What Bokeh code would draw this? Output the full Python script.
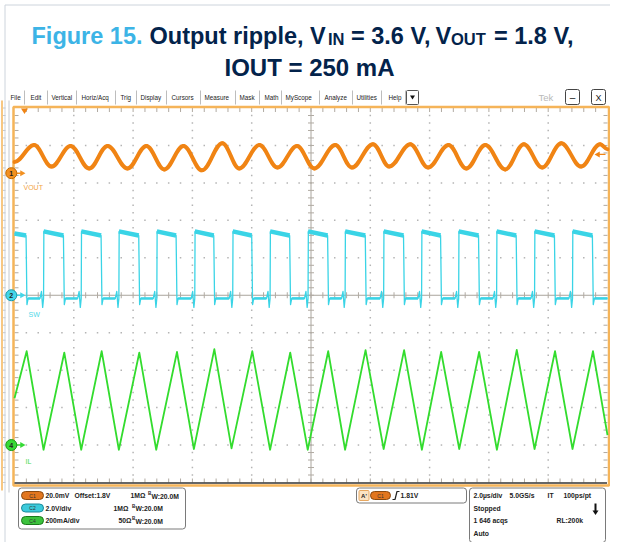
import math
from bokeh.plotting import figure
from bokeh.models import Range1d
from bokeh.embed import file_html
from bokeh.resources import INLINE
from bokeh.core.properties import value

# ---------------- data ----------------
title_parts = ["Figure 15.", "Output ripple, V", "IN", "= 3.6 V,", "V", "OUT", "= 1.8 V,"]
title_line2 = "IOUT = 250 mA"

menu_items = ["File", "Edit", "Vertical", "Horiz/Acq", "Trig", "Display", "Cursors",
              "Measure", "Mask", "Math", "MyScope", "Analyze", "Utilities", "Help"]
menu_x = [10, 30, 51, 81, 120, 140, 171, 204, 239, 264, 285, 324, 356, 388]
menu_sep_x = [24, 47, 76, 115, 136, 166, 200, 235, 259, 281, 319, 352, 381, 405]

TIME_PER_DIV_US = 2.0

# CH1 : VOUT ripple, 20 mV/div, offset 1.8 V
CH1_OFFSET_V = 1.8
CH1_MV_PER_DIV = 20.0
CH1_POS_DIV = 3.26
vout_t_us = [-10.0, -9.34, -8.75, -8.11, -7.48, -6.86, -6.19, -5.55, -4.95, -4.30, -3.68,
             -2.99, -2.42, -1.74, -1.13, -0.47, 0.11, 0.82, 1.38, 2.09, 2.64, 3.35, 3.95,
             4.64, 5.24, 5.88, 6.55, 7.18, 7.80, 8.44, 9.11, 9.75, 10.0]
vout_ripple_mv = [6.0, 15.0, 3.5, 14.5, 2.5, 14.5, 2.5, 14.5, 2.0, 14.5, 1.5, 16.0, 2.5,
                  15.0, 3.0, 14.5, 2.5, 15.0, 3.0, 15.5, 3.5, 15.5, 3.0, 15.0, 2.5, 15.0,
                  2.0, 15.5, 3.0, 16.0, 3.5, 15.5, 12.8]

# CH2 : SW node, 2 V/div
CH2_V_PER_DIV = 2.0
CH2_POS_DIV = 0.0
sw_fall_t_us = [-9.61, -8.35, -7.08, -5.81, -4.55, -3.28, -2.00, -0.72, 0.56, 1.83, 3.12,
                4.37, 5.65, 6.92, 8.21, 9.49]
sw_rise_t_us = [-9.02, -7.75, -6.48, -5.20, -3.92, -2.64, -1.38, -0.10, 1.15, 2.45, 3.73,
                4.98, 6.26, 7.54, 8.82]
SW_LEFT_V = 3.3
SW_HIGH_START_V = 3.41
SW_HIGH_END_V = 3.19
SW_LOW_V = -0.17
SW_UNDERSHOOT_V = -0.5
SW_BUMP_V = 0.2
SW_DIP_V = -0.65

# CH4 : IL, 200 mA/div
CH4_MA_PER_DIV = 200.0
CH4_POS_DIV = -4.0
il_t_us = [-10.0, -9.59, -9.02, -8.32, -7.75, -7.06, -6.48, -5.79, -5.22, -4.52, -3.95,
           -3.26, -2.68, -1.98, -1.38, -0.70, -0.11, 0.58, 1.15, 1.84, 2.45, 3.14, 3.74,
           4.39, 5.00, 5.67, 6.27, 6.94, 7.54, 8.23, 8.82, 9.51, 10.0]
il_ma = [250, 501, -25, 494, -25, 501, -25, 494, -25, 497, -21, 512, -18, 501, -25, 494,
         -25, 501, -25, 507, -21, 507, -25, 497, -21, 497, -25, 508, -21, 501, -21, 501, 53]

TRIG_LEVEL_V = 1.81

ch_badges = ["C1", "C2", "C4"]
ch_scale_txt = ["20.0mV", "2.0V/div", "200mA/div"]
ch_imp_txt = ["1MΩ", "1MΩ", "50Ω"]
ch_bw_txt = ["W:20.0M", "W:20.0M", "W:20.0M"]
acq_rows = [["2.0µs/div", "5.0GS/s", "IT", "100ps/pt"], ["Stopped"], ["1 646 acqs", "RL:200k"], ["Auto"]]

# ---------------- colours / layout ----------------
ORANGE = "#f08414"
CYAN = "#3ad4e6"
GREEN = "#33dc2e"
FRAME_OR = "#f5b459"
NAVY = "#03234b"
BLUE = "#3cb4e6"
DARK = "#222222"
EDGE = "#cdd4dc"

GX0, GX1, GY0, GY1 = 14.0, 607.0, 107.5, 482.0
DX = (GX1 - GX0) / 10.0
DY = (GY1 - GY0) / 10.0
GXC = (GX0 + GX1) / 2.0
GYC = (GY0 + GY1) / 2.0
XL, XR, YT, YB = 0, 610, 0, 542

p = figure(width=XR - XL, height=YB - YT, x_range=Range1d(XL, XR), y_range=Range1d(YB, YT),
           output_backend="svg", toolbar_location=None, min_border=0)
p.axis.visible = False
p.grid.visible = False
p.outline_line_color = None
p.background_fill_color = "white"
p.border_fill_color = "white"


def time_at(px):
    return (px - GXC) / DX * TIME_PER_DIV_US


def ch_val(py, pos_div, per_div, offset=0.0):
    return offset + ((GYC - py) / DY - pos_div) * per_div


p.extra_x_ranges = {"t": Range1d(time_at(XL), time_at(XR))}
p.extra_y_ranges = {
    "ch1": Range1d(ch_val(YB, CH1_POS_DIV, CH1_MV_PER_DIV / 1000, CH1_OFFSET_V),
                   ch_val(YT, CH1_POS_DIV, CH1_MV_PER_DIV / 1000, CH1_OFFSET_V)),
    "ch2": Range1d(ch_val(YB, CH2_POS_DIV, CH2_V_PER_DIV), ch_val(YT, CH2_POS_DIV, CH2_V_PER_DIV)),
    "ch4": Range1d(ch_val(YB, CH4_POS_DIV, CH4_MA_PER_DIV), ch_val(YT, CH4_POS_DIV, CH4_MA_PER_DIV)),
}


def T(x, y, s, size, color=DARK, bold=False, align="left", baseline="middle",
      font="Liberation Sans", **kw):
    p.text(x=[x], y=[y], text=[s], text_font=value(font), text_font_size=f"{size}px",
           text_color=color, text_font_style="bold" if bold else "normal",
           text_align=align, text_baseline=baseline, **kw)


def rbox(l, r, t, b, fill, line, lw=1.0, radius=3):
    kw = dict(left=[l], right=[r], top=[t], bottom=[b], fill_color=fill,
              line_color=line, line_width=lw)
    try:
        p.quad(border_radius=radius, **kw)
    except Exception:
        p.quad(**kw)


# ---------------- page frame ----------------
p.segment(x0=[4.5, 4.5], y0=[4.5, 4.5], x1=[4.5, 618], y1=[550, 4.5], line_color=EDGE, line_width=1)

# ---------------- title ----------------
FS = 23.5
SUB = 16.5
title_x = [31, 149, 327.5, 350.5, 435, 450.5, 493.5]
for i, s in enumerate(title_parts):
    sub = s in ("IN", "OUT")
    T(title_x[i], 38.5 if sub else 35, s, SUB if sub else FS, BLUE if i == 0 else NAVY,
      bold=True, baseline="alphabetic")
T(309, 67, title_line2, 24, NAVY, bold=True, align="center", baseline="alphabetic")

# ---------------- menu bar ----------------
for s, x in zip(menu_items, menu_x):
    T(x, 97, s, 6.3, DARK)
p.segment(x0=menu_sep_x, y0=[90] * len(menu_sep_x), x1=menu_sep_x, y1=[104] * len(menu_sep_x),
          line_color="#bdbdbd", line_width=1)
rbox(406, 418, 90, 104, "white", "#555555", 1, 1)
p.patch([409.5, 414.5, 412], [95, 95, 99], fill_color="#111111", line_color=None)
T(538, 97, "Tek", 9.5, "#b9b9b9")
rbox(565, 579, 89, 104, "white", "#444444", 1, 2)
T(572, 96.5, "–", 10, DARK, align="center")
rbox(591, 605, 89, 104, "white", "#444444", 1, 2)
T(598, 97, "X", 9, DARK, align="center")

# left side strip of the scope window
p.segment(x0=[1.5], y0=[100], x1=[1.5], y1=[490], line_color=FRAME_OR, line_width=1.5)
p.segment(x0=[8.5], y0=[100], x1=[8.5], y1=[492], line_color="#c3c8ce", line_width=1)
lt = [GY0 + k * DY / 5 for k in range(0, 51)]
p.segment(x0=[2.5] * len(lt), y0=lt, x1=[5] * len(lt), y1=lt, line_color="#c3c8ce", line_width=1)

# ---------------- graticule ----------------
gx, gy = [], []
for i in range(1, 10):
    if i == 5:
        continue
    for k in range(1, 50):
        if k % 5:
            gx.append(GX0 + i * DX); gy.append(GY0 + k * DY / 5)
        gx.append(GX0 + k * DX / 5); gy.append(GY0 + i * DY)
p.scatter(gx, gy, marker="square", size=1.5, fill_color="#b4b4b4", line_color=None)

p.segment(x0=[GXC, GX0], y0=[GY0, GYC], x1=[GXC, GX1], y1=[GY1, GYC],
          line_color="#a9a49c", line_width=1)
tx0, ty0, tx1, ty1 = [], [], [], []
for k in range(1, 50):
    y = GY0 + k * DY / 5
    x = GX0 + k * DX / 5
    L = 3
    tx0 += [GXC - L, x, GX0, GX1 - 4, x, x]
    tx1 += [GXC + L, x, GX0 + 4, GX1, x, x]
    ty0 += [y, GYC - L, y, y, GY0, GY1 - 4]
    ty1 += [y, GYC + L, y, y, GY0 + 4, GY1]
p.segment(tx0, ty0, tx1, ty1, line_color="#b0aaa2", line_width=1)

p.quad(left=[13], right=[608.5], top=[106.5], bottom=[485], fill_color=None,
       line_color=FRAME_OR, line_width=2.5)
p.segment(x0=[14], y0=[482.5], x1=[606.5], y1=[482.5], line_color="#333333", line_width=1.3)

# ---------------- traces ----------------
# CH4 IL
p.line(il_t_us, il_ma, line_color=GREEN, line_width=1.8, line_join="round",
       x_range_name="t", y_range_name="ch4")

# CH2 SW
sw_t = [-10.0]
sw_v = [SW_LEFT_V]
for i, tf in enumerate(sw_fall_t_us):
    sw_t += [tf, tf + 0.03, tf + 0.07]
    sw_v += [SW_HIGH_END_V, SW_UNDERSHOOT_V, SW_LOW_V]
    if i < len(sw_rise_t_us):
        tr = sw_rise_t_us[i]
        sw_t += [tr - 0.12, tr - 0.07, tr - 0.03, tr, tr + 0.01]
        sw_v += [SW_LOW_V, SW_BUMP_V, SW_DIP_V, SW_LOW_V, SW_HIGH_START_V]
    else:
        sw_t += [10.0]
        sw_v += [SW_LOW_V]
p.line(sw_t, sw_v, line_color=CYAN, line_width=1.3, line_join="round",
       x_range_name="t", y_range_name="ch2")
hi_xs = [[-10.0, sw_fall_t_us[0]]] + [[tr, sw_fall_t_us[i + 1]] for i, tr in enumerate(sw_rise_t_us)]
hi_ys = [[SW_LEFT_V, SW_HIGH_END_V]] + [[SW_HIGH_START_V, SW_HIGH_END_V] for _ in sw_rise_t_us]
p.multi_line(hi_xs, hi_ys, line_color=CYAN, line_width=4.5, x_range_name="t", y_range_name="ch2")
lo_xs = [[tf + 0.07, (sw_rise_t_us[i] - 0.12) if i < len(sw_rise_t_us) else 10.0]
         for i, tf in enumerate(sw_fall_t_us)]
lo_ys = [[SW_LOW_V, SW_LOW_V] for _ in sw_fall_t_us]
p.multi_line(lo_xs, lo_ys, line_color=CYAN, line_width=2.6, x_range_name="t", y_range_name="ch2")

# CH1 VOUT (smooth segments between the read extremes)
vout_v = [CH1_OFFSET_V + mv / 1000.0 for mv in vout_ripple_mv]
K = 0.364
b_x0 = vout_t_us[:-1]
b_x1 = vout_t_us[1:]
b_y0 = vout_v[:-1]
b_y1 = vout_v[1:]
p.bezier(x0=b_x0, y0=b_y0, x1=b_x1, y1=b_y1,
         cx0=[a + K * (b - a) for a, b in zip(b_x0, b_x1)], cy0=b_y0,
         cx1=[b - K * (b - a) for a, b in zip(b_x0, b_x1)], cy1=b_y1,
         line_color=ORANGE, line_width=4.0, line_cap="round",
         x_range_name="t", y_range_name="ch1")

# ---------------- markers ----------------
marks = [("1", CH1_OFFSET_V, "ch1", "#f29020", "#c46a00"),
         ("2", 0.0, "ch2", "#44d6e8", "#1a9aac"),
         ("4", 0.0, "ch4", "#36da36", "#1a9a1a")]
for num, yv, rn, fc, lc in marks:
    p.segment(x0=[16], y0=[yv], x1=[21], y1=[yv], line_color=fc, line_width=1.5, y_range_name=rn)
    p.scatter(x=[21.5], y=[yv], marker="triangle", angle=-math.pi / 2, size=6,
              fill_color=fc, line_color=None, y_range_name=rn)
    p.scatter(x=[10.8], y=[yv], marker="circle", size=11, fill_color=fc, line_color=lc,
              line_width=1, y_range_name=rn)
    p.text(x=[10.8], y=[yv], text=[num], text_font=value("Liberation Sans"),
           text_font_size="7px", text_font_style="bold", text_color=DARK,
           text_align="center", text_baseline="middle", y_range_name=rn)

T(23, 187, "VOUT", 7, "#f3a447")
T(28, 314, "SW", 7, "#4fd8e8")
T(25, 461, "IL", 7, "#46d846")

# trigger position / level
p.patch([20.5, 27.5, 24], [108, 108, 113.5], fill_color=ORANGE, line_color=None)
p.segment(x0=[598], y0=[TRIG_LEVEL_V], x1=[605], y1=[TRIG_LEVEL_V], line_color=ORANGE,
          line_width=1.3, y_range_name="ch1")
p.scatter(x=[597.5], y=[TRIG_LEVEL_V], marker="triangle", angle=math.pi / 2, size=6,
          fill_color=ORANGE, line_color=None, y_range_name="ch1")

# ---------------- info panel ----------------
rbox(18, 185, 487.5, 528.5, "white", "#7a7a7a", 1, 3)
row_y = [495, 507.5, 520]
pill_col = [("#e2761e", "#8a4a10"), ("#3ccadb", "#1a8a9a"), ("#3cc23c", "#1a7a1a")]
imp_x = [130, 113, 118]
bw_x = [147.5, 131.5, 131.5]
for i in range(3):
    y = row_y[i]
    rbox(21, 43, y - 4, y + 4, pill_col[i][0], pill_col[i][1], 1, 4)
    T(32, y, ch_badges[i], 5, "#333333", align="center")
    T(45, y, ch_scale_txt[i], 6.8, DARK, bold=True)
    T(imp_x[i], y, ch_imp_txt[i], 6.8, DARK, bold=True)
    T(bw_x[i], y - 2, "B", 4.5, DARK, bold=True)
    T(bw_x[i] + 3.5, y + 0.5, ch_bw_txt[i], 6.8, DARK, bold=True)
T(74, 495, "Offset:1.8V", 6.8, DARK, bold=True)

rbox(356, 466, 487.5, 502.5, "white", "#7a7a7a", 1, 3)
rbox(358.5, 368.5, 490, 500, "#fbe4c4", "#e8a860", 1, 1)
T(363.5, 495, "A'", 6, DARK, bold=True, align="center")
rbox(370, 390, 491, 499, pill_col[0][0], pill_col[0][1], 1, 4)
T(380, 495, "C1", 5, "#333333", align="center")
p.line([392, 394.5, 396.5, 399], [499, 499, 491, 491], line_color=DARK, line_width=1.2)
T(400, 495, "1.81V", 6.8, DARK, bold=True)

rbox(469, 605, 487.5, 542, "white", "#7a7a7a", 1, 3)
acq_x = [[473, 509, 547, 563], [473], [473, 556], [473]]
acq_y = [495, 507.5, 520, 532.5]
for r, row in enumerate(acq_rows):
    for s, x in zip(row, acq_x[r]):
        T(x, acq_y[r], s, 6.8, DARK, bold=True)
p.segment(x0=[595], y0=[503], x1=[595], y1=[511], line_color="#111111", line_width=2)
p.patch([592, 598, 595], [510, 510, 514.5], fill_color="#111111", line_color=None)

open("out.html", "w").write(file_html(p, INLINE))
